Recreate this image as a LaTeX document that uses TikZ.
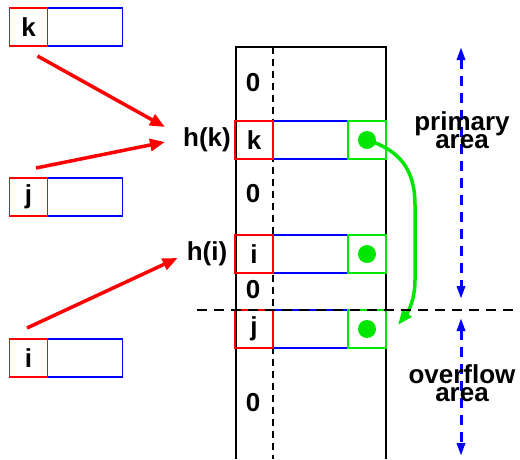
\documentclass[tikz,border=0pt]{standalone}
\usepackage{fontspec}
\setmainfont{Liberation Sans}
\definecolor{hsRed}{HTML}{FF0000}
\definecolor{hsBlue}{HTML}{0000FF}
\definecolor{hsGreen}{HTML}{00E600}
\definecolor{hsInk}{HTML}{000000}
\usetikzlibrary{arrows.meta,positioning,calc}

\begin{document}
\begin{tikzpicture}[
  x=1pt,y=-1pt,
  font=\fontsize{26}{17}\selectfont\bfseries,
  keybox/.style={draw=hsRed,line width=1.5pt,minimum width=38pt,minimum height=38pt,
                 inner sep=0pt,outer sep=0pt},
  restbox/.style={draw=hsBlue,line width=1.5pt,minimum width=75pt,minimum height=38pt,
                  inner sep=0pt,outer sep=0pt},
  linkbox/.style={draw=hsGreen,line width=1.5pt,minimum size=38pt,inner sep=0pt,outer sep=0pt},
  dot/.style={circle,fill=hsGreen,minimum size=18pt,inner sep=0pt},
  hash/.style={-{Triangle[length=15pt,width=12pt]},hsRed,line width=3.5pt},
  chain/.style={-{Triangle[length=15pt,width=11pt]},hsGreen,line width=3.5pt},
  area/.style={{Triangle[length=13pt,width=8pt]}-{Triangle[length=13pt,width=8pt]},hsBlue,
               line width=3pt,dash pattern=on 10pt off 7pt},
  split/.style={hsInk,line width=2.2pt,dash pattern=on 10pt off 7pt}
]
\useasboundingbox (0,0) rectangle (520,459);
% table
\draw[hsInk,line width=1.6pt] (236,459) |- (386,47) -- (386,459);
\draw[hsInk,line width=1.4pt,dash pattern=on 7pt off 5pt] (273,47) -- (273,459);
\foreach \y [count=\i] in {83,194,290,403}
  \node (zero\i) at (253,\y) {0};
% records outside the table
\foreach \n/\y in {k/27,j/197,i/358}{
  \node[restbox] (rec\n) at (85,\y) {};
  \node[keybox,left=0pt of rec\n] (key\n) {\n};
}
% records in the table
\foreach \n/\y in {k/140,i/254,j/329}{
  \node[restbox] (row\n) at (310.5,\y) {};
  \node[keybox,left=0pt of row\n] (slot\n) {\n};
  \node[linkbox,right=0pt of row\n] (link\n) {};
  \node[dot] (dot\n) at (link\n) {};
}
\node[inner sep=1pt] (hk) at (207,140) {h(k)};
\node[inner sep=1pt] (hi) at (207,254) {h(i)};
\draw[hash] ($(keyk.south)+(9,10)$) -- ($(hk.west)+(-17,-13)$);
\draw[hash] ($(keyj.north)+(7.5,-10)$) -- ($(hk.west)+(-17,2)$);
\draw[hash] ($(keyi.north)+(-1.5,-11)$) -- ($(hi.west)+(-8,4)$);
\coordinate (jin) at ($(linkj.north east)+(12,15)$);
\draw[chain] (dotk.center) .. controls (400,150) and (415,170) .. (415,205) -- (415,280)
  .. controls (415,300) and (408,312) .. (jin);
\draw[split] (197,310) -- (515,310);
% areas
\coordinate (pTop) at (461,47);
\coordinate (pBot) at (461,299);
\coordinate (oTop) at (461,318);
\coordinate (oBot) at (461,456);
\draw[area] (pTop) -- (pBot);
\draw[area] (oTop) -- (oBot);
\node[align=center] (prim) at (462,130) {primary\\[-2pt]area};
\node[align=center] (over) at (462,383) {overflow\\[1pt]area};
\end{tikzpicture}
\end{document}
